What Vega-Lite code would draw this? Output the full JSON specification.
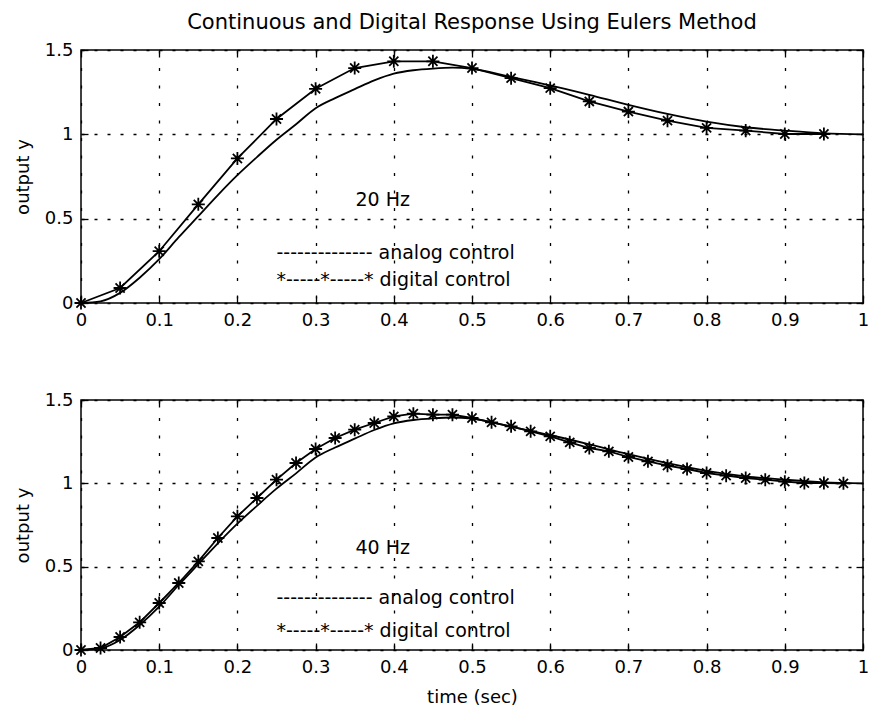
{
  "$schema": "https://vega.github.io/schema/vega-lite/v6.json",
  "padding": {"left": 13, "top": 11, "right": 0, "bottom": 3},
  "background": "white",
  "datasets": {
    "analog": [
      {"x": 0, "y": 0}, {"x": 0.025, "y": 0.01}, {"x": 0.05, "y": 0.06}, {"x": 0.075, "y": 0.15},
      {"x": 0.1, "y": 0.26}, {"x": 0.125, "y": 0.39}, {"x": 0.15, "y": 0.515}, {"x": 0.175, "y": 0.64},
      {"x": 0.2, "y": 0.758}, {"x": 0.225, "y": 0.865}, {"x": 0.25, "y": 0.968}, {"x": 0.275, "y": 1.06},
      {"x": 0.3, "y": 1.155}, {"x": 0.325, "y": 1.215}, {"x": 0.35, "y": 1.268}, {"x": 0.375, "y": 1.32},
      {"x": 0.4, "y": 1.36}, {"x": 0.425, "y": 1.38}, {"x": 0.45, "y": 1.39}, {"x": 0.475, "y": 1.395},
      {"x": 0.5, "y": 1.388}, {"x": 0.55, "y": 1.34}, {"x": 0.6, "y": 1.29}, {"x": 0.65, "y": 1.234},
      {"x": 0.7, "y": 1.175}, {"x": 0.75, "y": 1.121}, {"x": 0.8, "y": 1.075}, {"x": 0.85, "y": 1.042},
      {"x": 0.9, "y": 1.022}, {"x": 0.95, "y": 1.006}, {"x": 1.0, "y": 1.0}
    ],
    "dig20": [
      {"x": 0, "y": 0}, {"x": 0.05, "y": 0.089}, {"x": 0.1, "y": 0.307}, {"x": 0.15, "y": 0.585},
      {"x": 0.2, "y": 0.857}, {"x": 0.25, "y": 1.091}, {"x": 0.3, "y": 1.27}, {"x": 0.35, "y": 1.393},
      {"x": 0.4, "y": 1.433}, {"x": 0.45, "y": 1.433}, {"x": 0.5, "y": 1.393}, {"x": 0.55, "y": 1.333},
      {"x": 0.6, "y": 1.274}, {"x": 0.65, "y": 1.195}, {"x": 0.7, "y": 1.135}, {"x": 0.75, "y": 1.081},
      {"x": 0.8, "y": 1.038}, {"x": 0.85, "y": 1.022}, {"x": 0.9, "y": 1.002}, {"x": 0.95, "y": 1.002}
    ],
    "dig40": [
      {"x": 0, "y": 0}, {"x": 0.025, "y": 0.012}, {"x": 0.05, "y": 0.078}, {"x": 0.075, "y": 0.166},
      {"x": 0.1, "y": 0.282}, {"x": 0.125, "y": 0.402}, {"x": 0.15, "y": 0.532}, {"x": 0.175, "y": 0.672},
      {"x": 0.2, "y": 0.802}, {"x": 0.225, "y": 0.912}, {"x": 0.25, "y": 1.022}, {"x": 0.275, "y": 1.122},
      {"x": 0.3, "y": 1.206}, {"x": 0.325, "y": 1.272}, {"x": 0.35, "y": 1.322}, {"x": 0.375, "y": 1.362},
      {"x": 0.4, "y": 1.402}, {"x": 0.425, "y": 1.418}, {"x": 0.45, "y": 1.412}, {"x": 0.475, "y": 1.412},
      {"x": 0.5, "y": 1.392}, {"x": 0.525, "y": 1.366}, {"x": 0.55, "y": 1.342}, {"x": 0.575, "y": 1.312},
      {"x": 0.6, "y": 1.282}, {"x": 0.625, "y": 1.246}, {"x": 0.65, "y": 1.212}, {"x": 0.675, "y": 1.192},
      {"x": 0.7, "y": 1.158}, {"x": 0.725, "y": 1.132}, {"x": 0.75, "y": 1.106}, {"x": 0.775, "y": 1.086},
      {"x": 0.8, "y": 1.062}, {"x": 0.825, "y": 1.046}, {"x": 0.85, "y": 1.032}, {"x": 0.875, "y": 1.022},
      {"x": 0.9, "y": 1.01}, {"x": 0.925, "y": 1.002}, {"x": 0.95, "y": 1.002}, {"x": 0.975, "y": 1.0}
    ],
    "notes20": [
      {"x": 0.351, "y": 0.613, "label": "20 Hz"},
      {"x": 0.25, "y": 0.296, "label": "-------------- analog control"},
      {"x": 0.25, "y": 0.136, "label": "*-----*-----* digital control"}
    ],
    "notes40": [
      {"x": 0.351, "y": 0.612, "label": "40 Hz"},
      {"x": 0.25, "y": 0.312, "label": "-------------- analog control"},
      {"x": 0.25, "y": 0.114, "label": "*-----*-----* digital control"}
    ]
  },
  "vconcat": [
    {
      "width": 782,
      "height": 253,
      "title": {"text": "Continuous and Digital Response Using Eulers Method", "fontSize": 21, "fontWeight": "normal", "anchor": "middle", "frame": "group", "offset": 8, "color": "black"},
      "resolve": {"axis": {"x": "independent", "y": "independent"}},
      "layer": [
        {
          "data": {"name": "analog"},
          "mark": {"type": "line", "color": "black", "strokeWidth": 1.8, "interpolate": "monotone"},
          "encoding": {
            "x": {"field": "x", "type": "quantitative", "scale": {"domain": [0, 1], "nice": false},
                  "axis": {"orient": "bottom", "values": [0, 0.1, 0.2, 0.3, 0.4, 0.5, 0.6, 0.7, 0.8, 0.9, 1], "format": "~g", "title": null}},
            "y": {"field": "y", "type": "quantitative", "scale": {"domain": [0, 1.5], "nice": false},
                  "axis": {"orient": "left", "values": [0, 0.5, 1, 1.5], "format": "~g", "title": "output y"}}
          }
        },
        {
          "data": {"name": "dig20"},
          "mark": {"type": "line", "color": "black", "strokeWidth": 1.8},
          "encoding": {
            "x": {"field": "x", "type": "quantitative", "axis": null},
            "y": {"field": "y", "type": "quantitative", "axis": null}
          }
        },
        {
          "data": {"name": "dig20"},
          "mark": {"type": "point", "shape": "M-1,0L1,0M0,-1L0,1M-0.7,-0.7L0.7,0.7M-0.7,0.7L0.7,-0.7", "filled": false, "stroke": "black", "strokeWidth": 1.8, "size": 170, "opacity": 1},
          "encoding": {
            "x": {"field": "x", "type": "quantitative", "axis": null},
            "y": {"field": "y", "type": "quantitative", "axis": null}
          }
        },
        {
          "data": {"name": "notes20"},
          "mark": {"type": "text", "align": "left", "baseline": "middle", "fontSize": 19, "color": "black"},
          "encoding": {
            "x": {"field": "x", "type": "quantitative", "axis": {"orient": "top", "labels": false, "grid": false, "title": null, "values": [0, 0.1, 0.2, 0.3, 0.4, 0.5, 0.6, 0.7, 0.8, 0.9, 1]}},
            "y": {"field": "y", "type": "quantitative", "axis": {"orient": "right", "labels": false, "grid": false, "title": null, "values": [0, 0.5, 1, 1.5]}},
            "text": {"field": "label"}
          }
        }
      ]
    },
    {
      "width": 782,
      "height": 250,
      "resolve": {"axis": {"x": "independent", "y": "independent"}},
      "layer": [
        {
          "data": {"name": "analog"},
          "mark": {"type": "line", "color": "black", "strokeWidth": 1.8, "interpolate": "monotone"},
          "encoding": {
            "x": {"field": "x", "type": "quantitative", "scale": {"domain": [0, 1], "nice": false},
                  "axis": {"orient": "bottom", "values": [0, 0.1, 0.2, 0.3, 0.4, 0.5, 0.6, 0.7, 0.8, 0.9, 1], "format": "~g", "title": "time (sec)"}},
            "y": {"field": "y", "type": "quantitative", "scale": {"domain": [0, 1.5], "nice": false},
                  "axis": {"orient": "left", "values": [0, 0.5, 1, 1.5], "format": "~g", "title": "output y"}}
          }
        },
        {
          "data": {"name": "dig40"},
          "mark": {"type": "line", "color": "black", "strokeWidth": 1.8},
          "encoding": {
            "x": {"field": "x", "type": "quantitative", "axis": null},
            "y": {"field": "y", "type": "quantitative", "axis": null}
          }
        },
        {
          "data": {"name": "dig40"},
          "mark": {"type": "point", "shape": "M-1,0L1,0M0,-1L0,1M-0.7,-0.7L0.7,0.7M-0.7,0.7L0.7,-0.7", "filled": false, "stroke": "black", "strokeWidth": 1.8, "size": 170, "opacity": 1},
          "encoding": {
            "x": {"field": "x", "type": "quantitative", "axis": null},
            "y": {"field": "y", "type": "quantitative", "axis": null}
          }
        },
        {
          "data": {"name": "notes40"},
          "mark": {"type": "text", "align": "left", "baseline": "middle", "fontSize": 19, "color": "black"},
          "encoding": {
            "x": {"field": "x", "type": "quantitative", "axis": {"orient": "top", "labels": false, "grid": false, "title": null, "values": [0, 0.1, 0.2, 0.3, 0.4, 0.5, 0.6, 0.7, 0.8, 0.9, 1]}},
            "y": {"field": "y", "type": "quantitative", "axis": {"orient": "right", "labels": false, "grid": false, "title": null, "values": [0, 0.5, 1, 1.5]}},
            "text": {"field": "label"}
          }
        }
      ]
    }
  ],
  "spacing": 97,
  "bounds": "flush",
  "config": {
    "font": "DejaVu Sans",
    "view": {"stroke": "black", "strokeWidth": 1.5},
    "axis": {
      "domain": false,
      "labelFontSize": 18,
      "labelColor": "black",
      "titleFontSize": 18,
      "titleFontWeight": "normal",
      "titleColor": "black",
      "tickColor": "black",
      "tickSize": -7,
      "tickWidth": 1.3,
      "labelPadding": 15,
      "gridColor": "black",
      "gridOpacity": 1,
      "gridWidth": 1.3,
      "titlePadding": 12,
      "labelFlush": false,
      "labelOverlap": false
    },
    "axisX": {"gridDash": [3, 14.5]},
    "axisY": {"gridDash": [3, 10]}
  }
}
